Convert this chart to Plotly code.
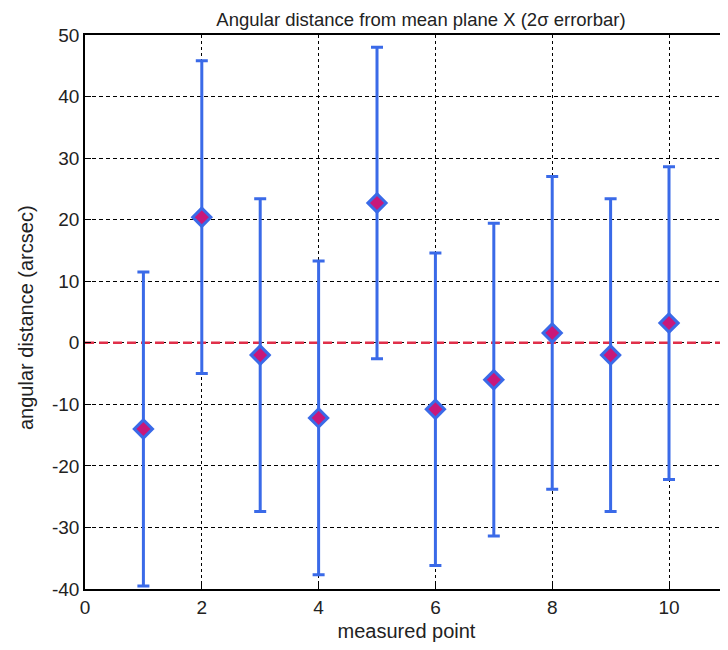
import plotly.graph_objects as go

points = [1, 2, 3, 4, 5, 6, 7, 8, 9, 10]
distance = [-14.0, 20.4, -2.0, -12.2, 22.7, -10.8, -6.0, 1.6, -2.0, 3.2]
err2sigma = [25.5, 25.4, 25.4, 25.5, 25.3, 25.4, 25.4, 25.4, 25.4, 25.4]
x_ticks = [0, 2, 4, 6, 8, 10]
y_ticks = [-40, -30, -20, -10, 0, 10, 20, 30, 40, 50]
y_tick_labels = [str(v) for v in y_ticks]

fig = go.Figure()
fig.add_trace(go.Scatter(
    x=[0, 11.1], y=[0, 0], mode="lines",
    line=dict(color="#e0304a", width=2.5, dash="9px,5px"),
    hoverinfo="skip", showlegend=False))
fig.add_trace(go.Scatter(
    x=points, y=distance, mode="markers",
    marker=dict(symbol="diamond", size=14, color="#c8187a",
                line=dict(color="#3a6ae8", width=3)),
    error_y=dict(type="data", array=err2sigma, visible=True,
                 color="#3a6ae8", thickness=3, width=6),
    showlegend=False))

# page body has an 8px margin: figure is drawn at offset (8, 8)
OFF = 8
W, H = 720, 642
PL, PT, PB, PR = 85, 35, 589, 728  # plot area in page pixels
L, R, T, B = PL - OFF, 0, PT - OFF, H - (PB - OFF)
font = "Liberation Sans, Arial, sans-serif"
pw, ph = PR - PL, PB - PT

fig.update_layout(
    width=W, height=H,
    margin=dict(l=L, r=R, t=T, b=B, autoexpand=False),
    paper_bgcolor="white", plot_bgcolor="white",
    font=dict(family=font, size=18, color="#222222"),
    title=dict(text="Angular distance from mean plane X (2σ errorbar)",
               xref="paper", x=(421 - PL) / pw, xanchor="center",
               yref="container", y=1 - (19.5 - OFF) / H, yanchor="middle",
               font=dict(size=18.5, color="#222222")),
    xaxis=dict(range=[0, 11.01], tickvals=x_ticks, ticks="inside", ticklen=6,
               tickcolor="black", showline=True, linecolor="black", linewidth=1.5,
               mirror=True, showgrid=True, gridcolor="black", griddash="3px,3px",
               gridwidth=1, zeroline=False, automargin=False,
               title=dict(text="measured point", standoff=7, font=dict(size=20)),
               tickfont=dict(size=19)),
    yaxis=dict(range=[-40, 50], tickvals=y_ticks, ticktext=y_tick_labels,
               ticks="inside", ticklen=6,
               tickcolor="black", showline=True, linecolor="black", linewidth=1.5,
               showgrid=True, gridcolor="black", griddash="4px,3px",
               gridwidth=1, zeroline=False, automargin=False,
               tickfont=dict(size=19)),
    annotations=[dict(text="angular distance (arcsec)", textangle=-90,
                      xref="paper", yref="paper",
                      x=(26 - PL) / pw, y=(PB - 318) / ph,
                      xanchor="center", yanchor="middle", showarrow=False,
                      font=dict(size=20, color="#222222"))],
)

fig.write_html("out.html")
